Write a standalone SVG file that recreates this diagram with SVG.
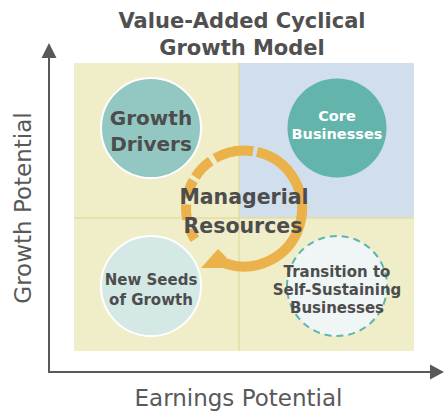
<svg xmlns="http://www.w3.org/2000/svg" width="444" height="413" viewBox="0 0 444 413">
  <style>
    .bold { font-family: "DejaVu Sans", "Liberation Sans", sans-serif; font-weight: bold; text-anchor: middle; }
    .dark { fill: #4d4d4d; }
    .axis-label { font-family: "DejaVu Sans", "Liberation Sans", sans-serif; font-size: 23px; fill: #595959; text-anchor: middle; }
    .axis { stroke: #595959; stroke-width: 2; fill: none; }
    .ring { stroke: #ebb14a; stroke-width: 10; fill: none; stroke-linecap: butt; }
  </style>

  <!-- background -->
  <rect x="0" y="0" width="444" height="413" fill="#ffffff"/>

  <!-- title -->
  <g id="title">
    <text class="bold" x="242" y="28" font-size="21" fill="#505050">Value-Added Cyclical</text>
    <text class="bold" x="242" y="55" font-size="21" fill="#505050">Growth Model</text>
  </g>

  <!-- quadrant panels -->
  <g id="quadrants">
    <rect x="74" y="63" width="340" height="288" fill="#f0edc9"/>
    <rect x="239" y="63" width="175" height="155" fill="#d0dfeb"/>
    <line x1="239" y1="63" x2="239" y2="351" stroke="#e4dca0" stroke-width="1.5"/>
    <line x1="74" y1="218" x2="414" y2="218" stroke="#e4dca0" stroke-width="1.5"/>
  </g>

  <!-- axes -->
  <g id="axes">
    <line class="axis" x1="49" y1="56" x2="49" y2="373"/>
    <line class="axis" x1="48" y1="372" x2="432" y2="372"/>
    <polygon points="49,43 41.5,58 56.5,58" fill="#595959"/>
    <polygon points="444,372 430,364.5 430,379.5" fill="#595959"/>
    <text class="axis-label" x="238.5" y="406">Earnings Potential</text>
    <text class="axis-label" transform="translate(31,208) rotate(-90)" x="0" y="0">Growth Potential</text>
  </g>

  <!-- business nodes -->
  <g id="growth-drivers">
    <circle cx="151" cy="128" r="50" fill="#93c8c2" stroke="#ffffff" stroke-width="2"/>
    <text class="bold dark" x="151" y="125" font-size="20">Growth</text>
    <text class="bold dark" x="151" y="151" font-size="20">Drivers</text>
  </g>

  <g id="core-businesses">
    <circle cx="337" cy="128" r="49.5" fill="#63b4ab"/>
    <text class="bold" x="337" y="121" font-size="14.5" fill="#ffffff">Core</text>
    <text class="bold" x="337" y="139" font-size="14.5" fill="#ffffff">Businesses</text>
  </g>

  <g id="new-seeds">
    <circle cx="151" cy="286" r="50" fill="#d4e8e5" stroke="#ffffff" stroke-width="2"/>
    <text class="bold dark" x="151" y="285" font-size="15">New Seeds</text>
    <text class="bold dark" x="151" y="305" font-size="15">of Growth</text>
  </g>

  <g id="transition">
    <circle cx="337" cy="286" r="50" fill="#f0f6f5" stroke="#5cb6ae" stroke-width="2" stroke-dasharray="7 5"/>
    <text class="bold dark" x="337" y="277" font-size="15">Transition to</text>
    <text class="bold dark" x="337" y="295" font-size="15">Self-Sustaining</text>
    <text class="bold dark" x="337" y="313" font-size="15">Businesses</text>
  </g>

  <!-- resource cycle: solid clockwise arc with arrowhead, fading dashes closing the loop -->
  <g id="connectors">
    <path class="ring" d="M257.05,151.99 A58,58 0 1 1 224.16,263.00"/>
    <polygon points="226.5,257.5 218,249 201,268 223,268" fill="#ebb14a"/>
    <path class="ring" d="M215,158.27 A58,58 0 0 1 253.07,151.21"/>
    <path class="ring" d="M195.36,176.91 A58,58 0 0 1 210.73,160.99"/>
    <path class="ring" d="M186.88,198.43 A58,58 0 0 1 193.27,180.38"/>
    <path class="ring" d="M187.07,219.57 A58,58 0 0 1 186.14,204.45"/>
    <path class="ring" d="M194.82,239.24 A58,58 0 0 1 189.85,229.29"/>
  </g>

  <g id="managerial-resources">
    <text class="bold dark" x="244" y="204" font-size="20.5">Managerial</text>
    <text class="bold dark" x="243" y="233" font-size="20.5">Resources</text>
  </g>
</svg>
